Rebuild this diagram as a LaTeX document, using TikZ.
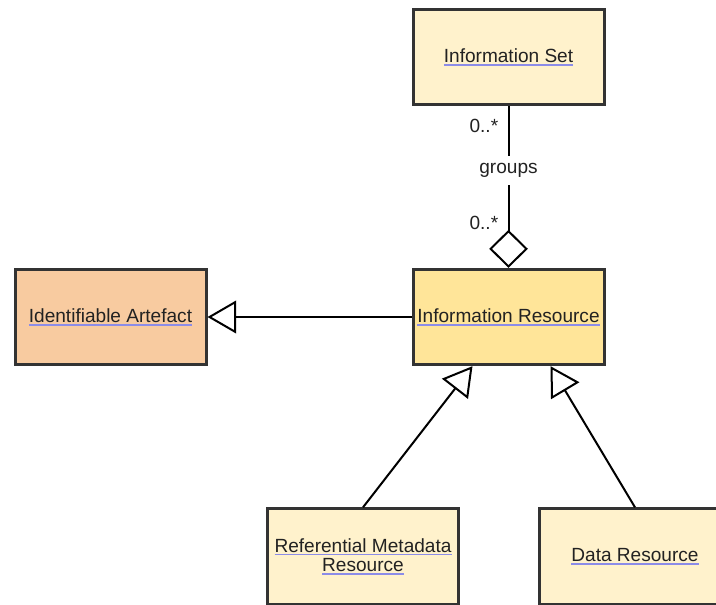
\documentclass[tikz,border=0pt]{standalone}
\usepackage{fontspec}
\setmainfont{Liberation Sans}
\usetikzlibrary{arrows.meta}
\definecolor{Border}{RGB}{51,51,51}
\definecolor{Ink}{RGB}{34,34,34}
\definecolor{LinkBlue}{RGB}{140,140,232}
\definecolor{SoftCream}{RGB}{255,242,204}
\definecolor{SoftYellow}{RGB}{255,229,153}
\definecolor{SoftOrange}{RGB}{248,203,160}
\newcommand{\lnk}[1]{\leavevmode\setbox0\hbox{#1}\rlap{\color{LinkBlue}\rule[-2.6pt]{\wd0}{1.1pt}}\box0}
\tikzset{
  umlclass/.style={draw=Border,line width=2.25pt,fill=SoftCream,align=center,text=Ink,font=\fontsize{14.3}{16.5}\selectfont,minimum width=143.25pt,minimum height=71.5pt,inner sep=2pt},
  gen/.style={-{Triangle[open,fill=white,length=21.5pt,width=24.5pt]},line width=1.5pt,draw=black},
  agg/.style={-{Diamond[open,fill=white,length=28.5pt,width=29pt]},line width=1.5pt,draw=black},
  lbl/.style={fill=white,text=Ink,font=\fontsize{14.3}{16.5}\selectfont,inner xsep=2pt,inner ysep=5.5pt},
  mult/.style={anchor=east,text=Ink,font=\fontsize{14.3}{16.5}\selectfont,inner sep=0pt,xshift=-7pt}
}
\begin{document}
\begin{tikzpicture}[x=0.75pt,y=-0.75pt]
  \useasboundingbox (0,0) rectangle (716,605);
  \node[umlclass] (infoset) at (508.5,57) {\lnk{Information Set}};
  \node[umlclass,fill=SoftYellow] (infores) at (508.5,317) {\lnk{Information Resource}};
  \node[umlclass,fill=SoftOrange] (artefact) at (110.5,317) {\lnk{Identifiable Artefact}};
  \node[umlclass] (refmeta) at (363,556.5) {\lnk{Referential Metadata}\\[-2pt]\lnk{Resource}};
  \node[umlclass] (datares) at (635,556.5) {\lnk{Data Resource}};
  % aggregation
  \draw[agg] (infoset) -- node[lbl,pos=.40] {groups} node[mult,pos=.12] {0..*} node[mult,pos=.72] {0..*} (infores);
  % generalisations
  \draw[gen] (infores) -- (artefact);
  \draw[gen] (refmeta.north) -- ([xshift=45.75pt]infores.south west);
  \draw[gen] (datares.north) -- ([xshift=104.25pt]infores.south west);
\end{tikzpicture}
\end{document}
